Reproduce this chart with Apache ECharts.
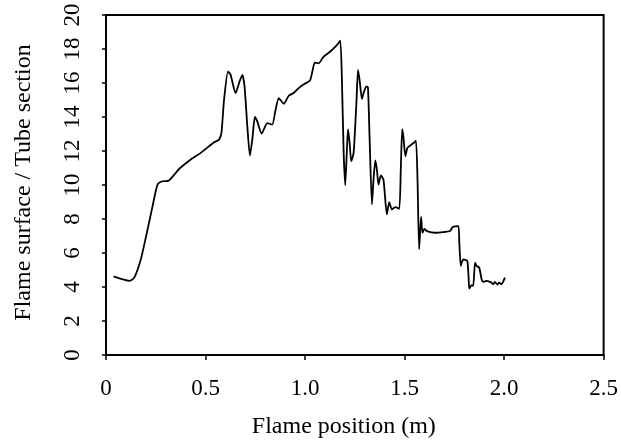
<!DOCTYPE html>
<html><head><meta charset="utf-8">
<script src="https://cdn.jsdelivr.net/npm/echarts@6/dist/echarts.min.js"></script>
<style>html,body{margin:0;padding:0;background:#fff}#c{width:621px;height:444px}</style>
</head><body><div id="c"></div>
<script>
var positions = [0.038,0.117,0.142,0.175,0.209,0.234,0.259,0.284,0.312,0.367,0.426,0.476,0.543,0.568,0.580,0.593,0.613,0.626,0.651,0.671,0.685,0.696,0.710,0.723,0.735,0.748,0.760,0.782,0.810,0.835,0.852,0.868,0.893,0.918,0.943,0.968,0.994,1.024,1.035,1.049,1.069,1.091,1.127,1.161,1.177,1.186,1.194,1.202,1.211,1.216,1.224,1.232,1.244,1.258,1.266,1.274,1.286,1.294,1.308,1.316,1.324,1.336,1.344,1.353,1.361,1.369,1.381,1.394,1.411,1.423,1.436,1.453,1.473,1.481,1.488,1.494,1.504,1.514,1.528,1.545,1.557,1.565,1.573,1.578,1.583,1.590,1.600,1.612,1.653,1.695,1.728,1.742,1.770,1.775,1.782,1.787,1.795,1.815,1.822,1.825,1.837,1.845,1.854,1.862,1.875,1.887,1.895,1.912,1.937,1.945,1.954,1.966,1.975,1.987,1.995,2.004];
var surfaceRatio = [4.62,4.36,4.55,5.63,7.39,8.76,10.03,10.22,10.24,10.94,11.5,11.89,12.51,12.67,13.06,15.0,16.68,16.48,15.41,16.09,16.48,15.80,13.45,11.73,12.67,14.0,13.74,13.02,13.64,13.55,14.43,15.11,14.78,15.25,15.41,15.70,15.93,16.13,16.58,17.20,17.16,17.52,17.85,18.24,18.49,15.8,11.89,9.99,12.28,13.29,12.47,11.40,11.89,14.82,16.77,16.19,15.05,15.41,15.80,15.74,12.86,8.86,10.32,11.45,10.91,10.03,10.56,10.32,8.27,8.99,8.56,8.70,8.60,10.91,13.29,12.86,11.69,12.18,12.32,12.47,12.61,10.32,6.22,7.19,8.13,7.19,7.42,7.29,7.19,7.23,7.29,7.53,7.58,6.60,5.24,5.43,5.63,5.53,4.46,3.91,4.11,4.07,5.43,5.24,5.14,4.46,4.30,4.36,4.26,4.16,4.30,4.14,4.26,4.16,4.30,4.55];
var xTicks = [0, 0.5, 1.0, 1.5, 2.0, 2.5];
var yTicks = [0,2,4,6,8,10,12,14,16,18,20];

var pts = positions.map(function(x,i){return [x, surfaceRatio[i]];});
var font = 'Liberation Serif';
var chart = echarts.init(document.getElementById('c'));
chart.setOption({
  animation:false,
  backgroundColor:'#fff',
  grid:{left:106,right:17,top:15,bottom:87,show:true,borderColor:'#000',borderWidth:2,backgroundColor:'transparent'},
  xAxis:{type:'value',min:xTicks[0],max:xTicks[xTicks.length-1],interval:0.5,
    name:'Flame position (m)',nameLocation:'middle',nameGap:60,
    nameTextStyle:{fontFamily:font,fontSize:24,color:'#000',padding:[0,22,0,0]},
    axisLine:{lineStyle:{color:'#000',width:2}},
    axisTick:{show:true,inside:false,length:5,lineStyle:{color:'#000',width:1.5}},
    splitLine:{show:false},
    axisLabel:{fontFamily:font,fontSize:23,color:'#000',margin:22,
      formatter:function(v){return v===0?'0':v.toFixed(1);}}
  },
  yAxis:{type:'value',min:yTicks[0],max:yTicks[yTicks.length-1],interval:2,
    name:'Flame surface / Tube section',nameLocation:'middle',nameGap:70,
    nameTextStyle:{fontFamily:font,fontSize:24,color:'#000',padding:[0,0,0,5]},
    axisLine:{show:true,lineStyle:{color:'#000',width:2}},
    axisTick:{show:true,inside:false,length:4,lineStyle:{color:'#000',width:1.5}},
    splitLine:{show:false},
    axisLabel:{fontFamily:font,fontSize:23,color:'#000',rotate:90,margin:22}
  },
  series:[{type:'line',data:pts,showSymbol:false,smooth:0.2,
    lineStyle:{color:'#000',width:1.8}}]
});
</script></body></html>
